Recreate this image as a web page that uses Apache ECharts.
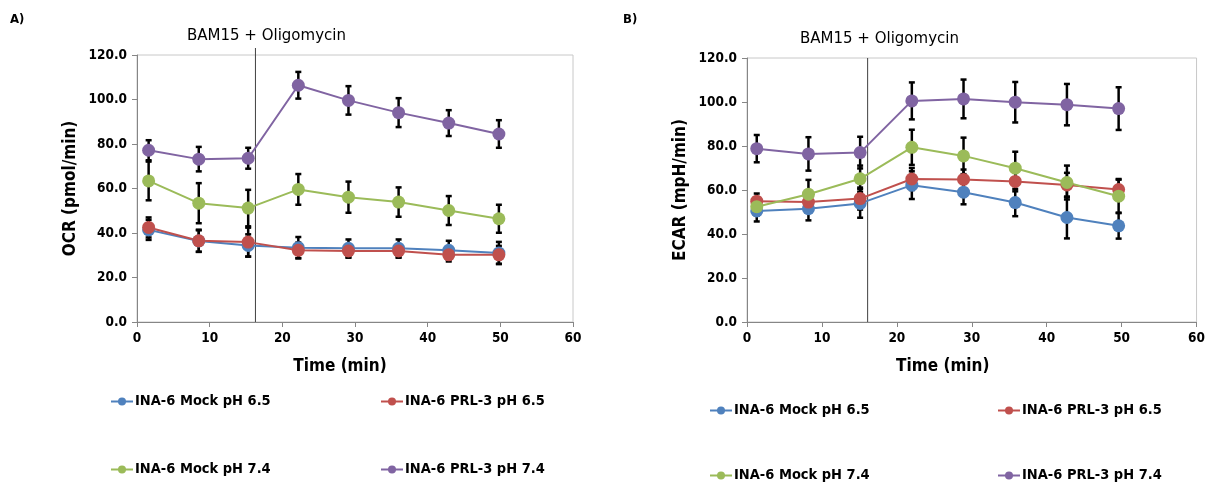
<!DOCTYPE html>
<html><head><meta charset="utf-8">
<script src="https://cdn.jsdelivr.net/npm/echarts@6/dist/echarts.min.js"></script>
<style>html,body{margin:0;padding:0;background:#fff}#c{width:1208px;height:484px}</style>
</head><body><div id="c"></div>
<script>
const seriesNames = ['INA-6 Mock pH 6.5','INA-6 PRL-3 pH 6.5','INA-6 Mock pH 7.4','INA-6 PRL-3 pH 7.4'];
const colors = ['#4F81BD','#C0504D','#9BBB59','#8064A2'];
const timesA = [1.6, 8.5, 15.3, 22.2, 29.1, 36.0, 42.9, 49.8];
const timesB = [1.3, 8.2, 15.1, 22.0, 28.9, 35.8, 42.7, 49.6];
const xTicks = [0, 10, 20, 30, 40, 50, 60];
const injectionTimeA = 16.3;
const injectionTimeB = 16.1;
const injectionLabel = 'BAM15 + Oligomycin';

// OCR (pmol/min)
const ocrMock65 = [41.4, 36.4, 34.4, 33.4, 33.1, 33.1, 32.2, 31.0];
const ocrPrl65  = [42.5, 36.5, 35.9, 32.2, 31.9, 31.9, 30.2, 30.2];
const ocrMock74 = [63.4, 53.4, 51.2, 59.6, 56.1, 53.9, 50.1, 46.4];
const ocrPrl74  = [77.2, 73.2, 73.6, 106.4, 99.6, 94.1, 89.4, 84.5];
const ocrErrMock65 = [4.5, 4.8, 5.0, 4.8, 4.0, 4.0, 4.3, 5.0];
const ocrErrPrl65  = [4.5, 5.0, 6.5, 3.5, 3.0, 3.0, 3.0, 4.0];
const ocrErrMock74 = [8.7, 9.0, 8.2, 6.9, 7.0, 6.6, 6.5, 6.3];
const ocrErrPrl74  = [4.5, 5.5, 4.7, 6.0, 6.4, 6.5, 5.8, 6.2];

// ECAR (mpH/min)
const ecarMock65 = [50.5, 51.5, 53.9, 62.2, 59.0, 54.3, 47.5, 43.7];
const ecarPrl65  = [54.9, 54.5, 56.1, 65.0, 64.8, 63.9, 62.3, 60.2];
const ecarMock74 = [52.4, 58.1, 65.1, 79.4, 75.5, 69.9, 63.4, 57.2];
const ecarPrl74  = [78.8, 76.4, 77.0, 100.5, 101.4, 99.9, 98.8, 97.0];
const ecarErrMock65 = [4.8, 5.3, 6.5, 6.3, 5.5, 6.2, 9.5, 5.8];
const ecarErrPrl65  = [3.5, 4.5, 5.0, 5.0, 4.5, 4.5, 5.5, 4.8];
const ecarErrMock74 = [4.0, 6.5, 6.0, 8.0, 8.3, 7.5, 7.7, 7.5];
const ecarErrPrl74  = [6.2, 7.6, 7.2, 8.4, 8.8, 9.2, 9.4, 9.7];

const FONT = 'DejaVu Sans Condensed, DejaVu Sans, sans-serif';

const ocrVals = [ocrMock65, ocrPrl65, ocrMock74, ocrPrl74];
const ocrErrs = [ocrErrMock65, ocrErrPrl65, ocrErrMock74, ocrErrPrl74];
const ecarVals = [ecarMock65, ecarPrl65, ecarMock74, ecarPrl74];
const ecarErrs = [ecarErrMock65, ecarErrPrl65, ecarErrMock74, ecarErrPrl74];

function errSeries(idx, times, vals, errs) {
  return {
    type: 'custom', xAxisIndex: idx, yAxisIndex: idx, z: 1, silent: true,
    data: times.map((t, i) => [t, vals[i] - errs[i], vals[i] + errs[i]]),
    renderItem: function (params, api) {
      const lo = api.coord([api.value(0), api.value(1)]);
      const hi = api.coord([api.value(0), api.value(2)]);
      const w = 3;
      const st = { stroke: '#000', lineWidth: 2.5 };
      return { type: 'group', children: [
        { type: 'line', shape: { x1: lo[0], y1: lo[1], x2: hi[0], y2: hi[1] }, style: st },
        { type: 'line', shape: { x1: lo[0]-w, y1: lo[1], x2: lo[0]+w, y2: lo[1] }, style: st },
        { type: 'line', shape: { x1: hi[0]-w, y1: hi[1], x2: hi[0]+w, y2: hi[1] }, style: st }
      ]};
    }
  };
}
function lineSeries(idx, k, times, vals) {
  return {
    type: 'line', name: seriesNames[k], xAxisIndex: idx, yAxisIndex: idx, z: 3,
    data: times.map((t, i) => [t, vals[i]]),
    symbol: 'circle', symbolSize: 13,
    itemStyle: { color: colors[k] },
    lineStyle: { color: colors[k], width: 2 }
  };
}
// vertical injection marker drawn through the axis scale
function injSeries(idx, t, topExtra) {
  return {
    type: 'custom', xAxisIndex: idx, yAxisIndex: idx, z: 2, silent: true, clip: false,
    data: [[t, 0, 120]],
    renderItem: function (params, api) {
      const lo = api.coord([api.value(0), api.value(1)]);
      const hi = api.coord([api.value(0), api.value(2)]);
      return { type: 'line', shape: { x1: lo[0], y1: lo[1], x2: hi[0], y2: hi[1] - topExtra },
        style: { stroke: '#404040', lineWidth: 1 } };
    }
  };
}

const series = [];
for (let k = 0; k < 4; k++) series.push(errSeries(0, timesA, ocrVals[k], ocrErrs[k]));
for (let k = 0; k < 4; k++) series.push(errSeries(1, timesB, ecarVals[k], ecarErrs[k]));
series.push(injSeries(0, injectionTimeA, 7));
series.push(injSeries(1, injectionTimeB, 0));
for (let k = 0; k < 4; k++) series.push(lineSeries(0, k, timesA, ocrVals[k]));
for (let k = 0; k < 4; k++) series.push(lineSeries(1, k, timesB, ecarVals[k]));

function xAxis(idx, shift) {
  return { type: 'value', gridIndex: idx, min: 0, max: 60, interval: 10,
    name: 'Time (min)', nameLocation: 'middle', nameGap: 36,
    nameTextStyle: { fontFamily: FONT, fontWeight: 'bold', fontSize: 17, color: '#000', padding: [0, shift, 0, 0] },
    axisLine: { lineStyle: { color: '#868686' } },
    axisTick: { length: 5, lineStyle: { color: '#868686' } },
    axisLabel: { fontFamily: FONT, fontWeight: 'bold', fontSize: 13.5, color: '#000', margin: 9 },
    splitLine: { show: false } };
}
function yAxis(idx, name) {
  return { type: 'value', gridIndex: idx, min: 0, max: 120, interval: 20,
    name: name, nameLocation: 'middle', nameGap: 58,
    nameTextStyle: { fontFamily: FONT, fontWeight: 'bold', fontSize: 17, color: '#000' },
    axisLine: { show: true, lineStyle: { color: '#868686' } },
    axisTick: { show: true, length: 5, lineStyle: { color: '#868686' } },
    axisLabel: { fontFamily: FONT, fontWeight: 'bold', fontSize: 13.5, color: '#000', margin: 10,
      formatter: v => v.toFixed(1) },
    splitLine: { show: false } };
}
function legend(name, left, top) {
  return { data: [name], left: left, top: top, itemWidth: 22, itemHeight: 10, itemGap: 0, padding: 0,
    selectedMode: false,
    textStyle: { fontFamily: FONT, fontWeight: 'bold', fontSize: 14.5, color: '#000', padding: [0,0,0,-3] } };
}

const chart = echarts.init(document.getElementById('c'), null, { renderer: 'canvas' });
chart.setOption({
  animation: false,
  backgroundColor: '#fff',
  grid: [
    { left: 137, right: 635, top: 55, bottom: 162, show: true, borderColor: '#c8c8c8', borderWidth: 1, backgroundColor: 'transparent' },
    { left: 747, right: 11, top: 58, bottom: 162, show: true, borderColor: '#c8c8c8', borderWidth: 1, backgroundColor: 'transparent' }
  ],
  xAxis: [xAxis(0, 30), xAxis(1, 58)],
  yAxis: [yAxis(0, 'OCR (pmol/min)'), yAxis(1, 'ECAR (mpH/min)')],
  legend: [
    legend(seriesNames[0], 110, 394), legend(seriesNames[1], 380, 394),
    legend(seriesNames[2], 110, 462), legend(seriesNames[3], 380, 462),
    legend(seriesNames[0], 709, 403), legend(seriesNames[1], 997, 403),
    legend(seriesNames[2], 709, 468), legend(seriesNames[3], 997, 468)
  ],
  graphic: [
    { type: 'text', left: 10, top: 13, style: { text: 'A)', font: 'bold 13px ' + FONT, fill: '#000' } },
    { type: 'text', left: 623, top: 13, style: { text: 'B)', font: 'bold 13px ' + FONT, fill: '#000' } },
    { type: 'text', left: 187, top: 29, style: { text: injectionLabel, font: '15px DejaVu Sans, sans-serif', fill: '#000' } },
    { type: 'text', left: 800, top: 32, style: { text: injectionLabel, font: '15px DejaVu Sans, sans-serif', fill: '#000' } }
  ],
  series: series
});
</script></body></html>
